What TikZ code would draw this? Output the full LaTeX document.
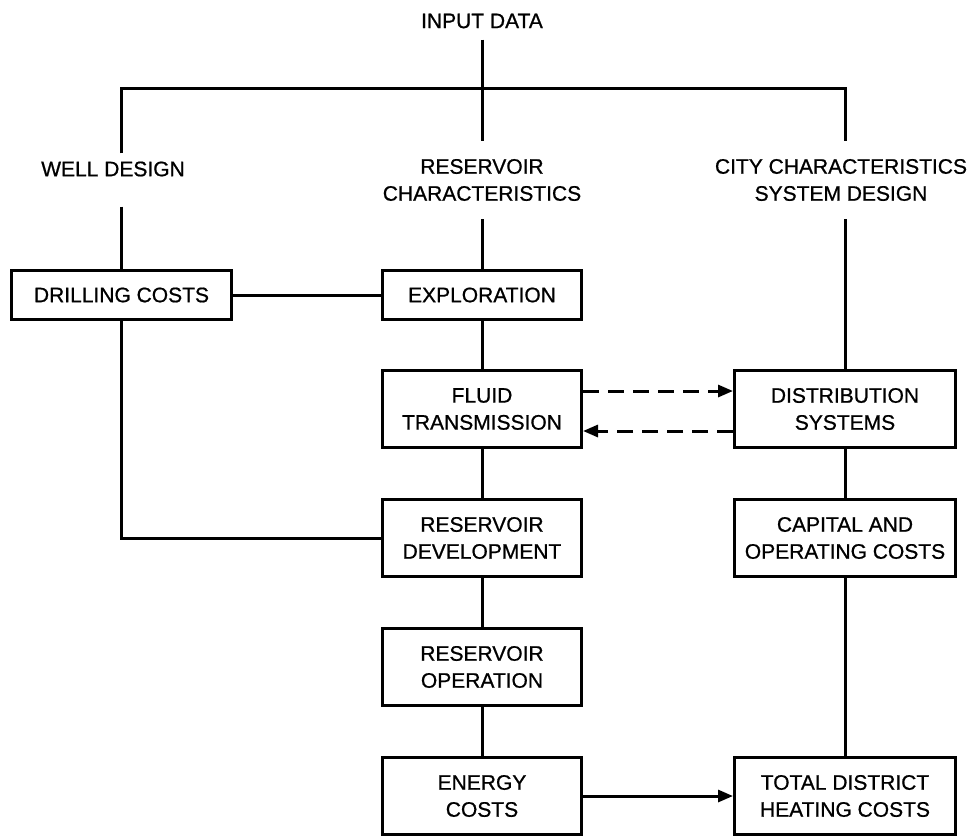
\documentclass[tikz,border=0pt]{standalone}
\usepackage{fontspec}
\setmainfont[FakeBold=0.8]{Liberation Sans}
\usetikzlibrary
  {
    positioning,              % place nodes relative to other nodes
    arrows.meta,              % triangle arrow heads
  }

\begin{document}
\begin{tikzpicture}
    [
      x=1pt, y=-1pt,
      every node/.style=
        {
          font=\fontsize{21}{27}\selectfont,
          align=center,
        },
      block/.style=
        {
          rectangle,
          draw,
          line width=3pt,
          minimum height=49pt,
          inner sep=2pt,
        },
      tallblock/.style={block, minimum height=77pt},
      midwidth/.style={minimum width=199pt},
      sidewidth/.style={minimum width=221pt},
      heading/.style={inner sep=18pt},
      link/.style={line width=3pt},
      flow/.style={link, -{Triangle[length=15pt, width=12pt]}},
      feedback/.style={flow, dash pattern=on 16pt off 9pt},
    ]
    \useasboundingbox (0,0) rectangle (976,839);

    % inputs
    \node[heading, inner sep=11pt] (input) at (482,21) {INPUT DATA};
    \node[heading, inner sep=8pt]  (well)  at (113,169) {WELL DESIGN};
    \node[heading] (rchar) at (482,180) {RESERVOIR\\CHARACTERISTICS};
    \node[heading] (city)  at (841,180) {CITY CHARACTERISTICS\\SYSTEM DESIGN};
    \coordinate (split) at (482,88);

    % reservoir column
    \node[block, midwidth]     (explor) at (482,295)          {EXPLORATION};
    \node[tallblock, midwidth] (fluid)  [below=48pt of explor] {FLUID\\TRANSMISSION};
    \node[tallblock, midwidth] (dev)    [below=49pt of fluid]  {RESERVOIR\\DEVELOPMENT};
    \node[tallblock, midwidth] (op)     [below=49pt of dev]    {RESERVOIR\\OPERATION};
    \node[tallblock, midwidth] (energy) [below=49pt of op]     {ENERGY\\COSTS};

    % well and city columns
    \node[block, minimum width=220pt] (drill) [left=148pt of explor] {DRILLING COSTS};
    \node[tallblock, sidewidth] (distr)   [right=150pt of fluid]  {DISTRIBUTION\\SYSTEMS};
    \node[tallblock, sidewidth] (capital) [below=49pt of distr]   {CAPITAL AND\\OPERATING COSTS};
    \node[tallblock, sidewidth] (total)   [right=150pt of energy] {TOTAL DISTRICT\\HEATING COSTS};

    % connections
    \draw[link] (input) -- (split);
    \draw[link] (drill |- well.north) |- (split) -| (distr |- city.north);
    \draw[link] (split) -- (rchar);
    \draw[link, shorten <=22pt] (drill |- well.south) -- (drill);
    \draw[link] (rchar) -- (explor);
    \draw[link] (distr |- city.south) -- (distr);
    \draw[link] (drill) -- (explor);
    \draw[link] (explor) -- (fluid) -- (dev) -- (op) -- (energy);
    \draw[link] (drill) |- (dev);
    \draw[link] (distr) -- (capital) -- (total);
    \draw[flow] (energy) -- (total);
    \draw[feedback] ([yshift=18pt]fluid.east) -- ([yshift=18pt]distr.west);
    \draw[feedback] ([yshift=-22pt]distr.west) -- ([yshift=-22pt]fluid.east);
\end{tikzpicture}
\end{document}
